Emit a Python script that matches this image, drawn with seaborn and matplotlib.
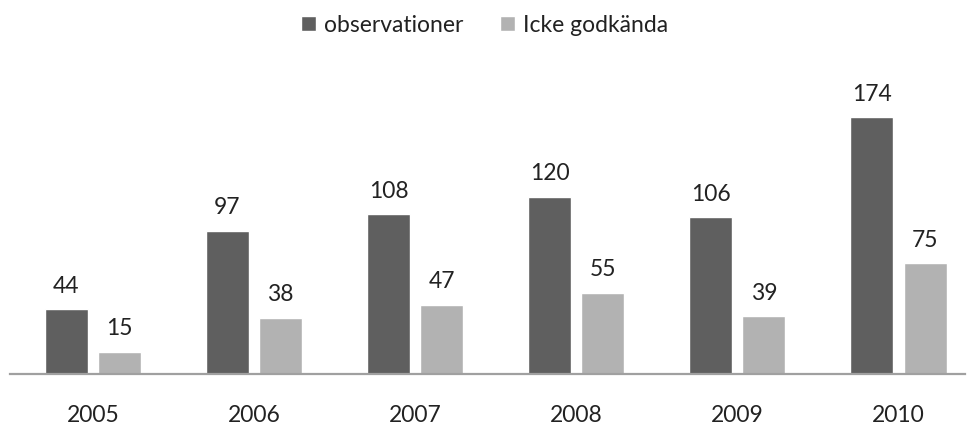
import pandas as pd
import matplotlib
matplotlib.use('Agg')
import matplotlib.pyplot as plt
import seaborn as sns

years = ['2005', '2006', '2007', '2008', '2009', '2010']
observationer = [44, 97, 108, 120, 106, 174]
icke_godkanda = [15, 38, 47, 55, 39, 75]
series_names = ['observationer', 'Icke godkända']
colors = ['#5f5f5f', '#b2b2b2']

df = pd.DataFrame({
    'year': years * 2,
    'value': observationer + icke_godkanda,
    'serie': [series_names[0]] * len(years) + [series_names[1]] * len(years),
})

sns.set_style('white')
plt.rcParams['font.family'] = ['Lato', 'DejaVu Sans']
text_color = '#222222'
fsize = 16.5

fig = plt.figure(figsize=(9.69, 4.28), dpi=100)
ax = fig.add_axes([10 / 969, 54 / 428, 955 / 969, 314 / 428])

sns.barplot(data=df, x='year', y='value', hue='serie', palette=colors,
            width=0.66, gap=0.19, ax=ax, legend=True, saturation=1)

for container in ax.containers:
    ax.bar_label(container, padding=9, fontsize=fsize, color=text_color)

ax.set_xlim(-0.515, 5.413)
ax.set_ylim(0, 212.6)
ax.set_xlabel('')
ax.set_ylabel('')
ax.set_yticks([])
ax.tick_params(axis='x', length=0, pad=22, labelsize=fsize, labelcolor=text_color)
for side in ['top', 'left', 'right']:
    ax.spines[side].set_visible(False)
ax.spines['bottom'].set_color('#a0a0a0')
ax.spines['bottom'].set_linewidth(1.6)

handles, labels = ax.get_legend_handles_labels()
ax.legend_.remove()
fig.legend(handles, labels, loc='center', bbox_to_anchor=(0.5, 1 - 25 / 428), ncol=2,
           frameon=False, fontsize=fsize, handlelength=0.65, handleheight=0.65,
           handletextpad=0.35, columnspacing=1.6, labelcolor=text_color)

fig.savefig('out.png', dpi=100)
